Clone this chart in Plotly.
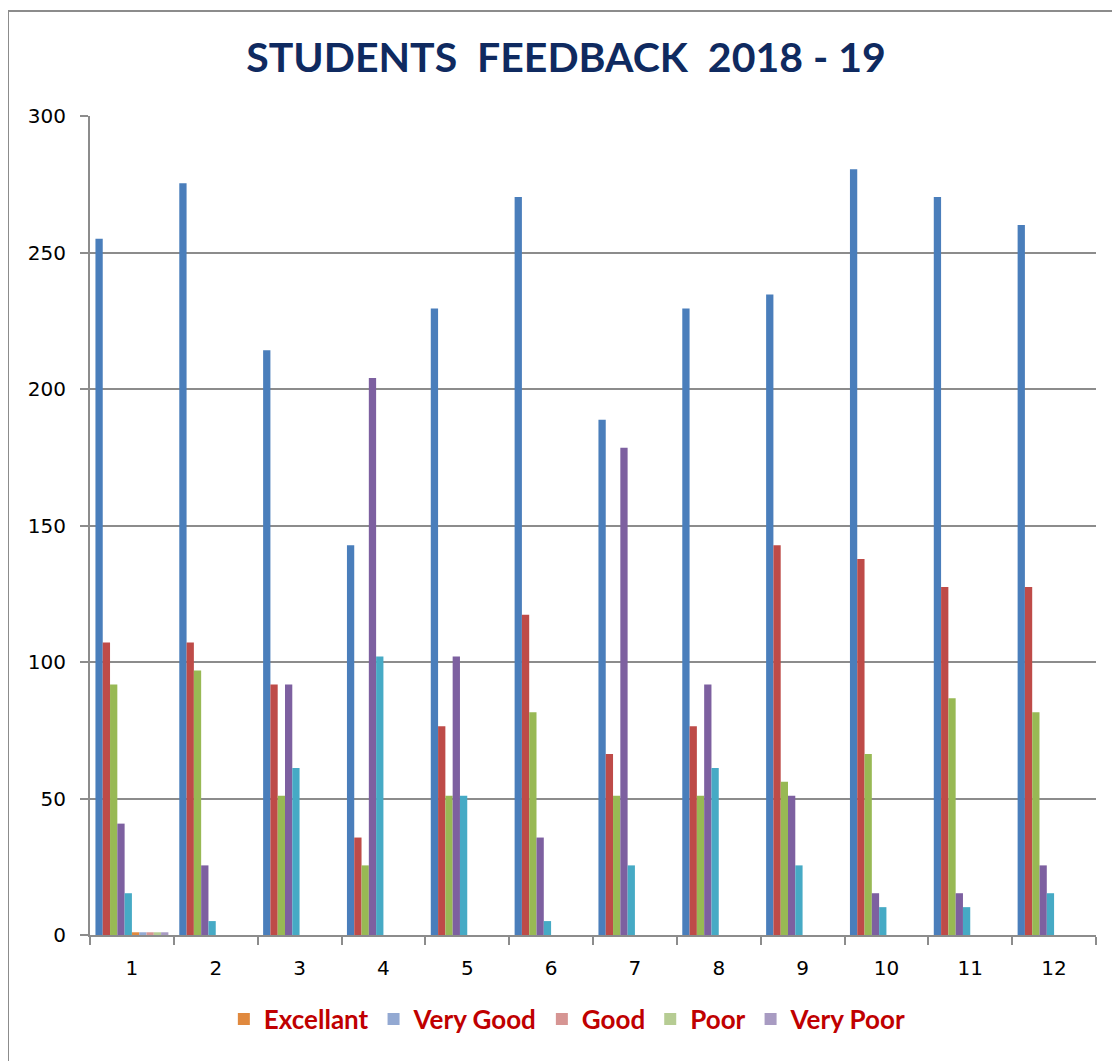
import plotly.graph_objects as go

categories = [str(i) for i in range(1, 13)]

# unlabelled main series (Excel default palette)
s_blue   = [255, 275.4, 214.2, 142.8, 229.5, 270.3, 188.7, 229.5, 234.6, 280.5, 270.3, 260.1]
s_red    = [107.1, 107.1, 91.8, 35.7, 76.5, 117.3, 66.3, 76.5, 142.8, 137.7, 127.5, 127.5]
s_green  = [91.8, 96.9, 51, 25.5, 51, 81.6, 51, 51, 56.1, 66.3, 86.7, 81.6]
s_purple = [40.8, 25.5, 91.8, 204, 102, 35.7, 178.5, 91.8, 51, 15.3, 15.3, 25.5]
s_teal   = [15.3, 5.1, 61.2, 102, 51, 5.1, 25.5, 61.2, 25.5, 10.2, 10.2, 15.3]

# legend series
legend_names = ["Excellant", "Very Good", "Good", "Poor", "Very Poor"]
excellant = [1] + [None] * 11
very_good = [1] + [None] * 11
good      = [1] + [None] * 11
poor      = [1] + [None] * 11
very_poor = [1] + [None] * 11

main_series = [s_blue, s_red, s_green, s_purple, s_teal]
main_colors = ["#4A7EBB", "#BE4B48", "#98B954", "#7D60A0", "#46AAC5"]
legend_series = [excellant, very_good, good, poor, very_poor]
legend_colors = ["#E0893E", "#93A9D2", "#D69593", "#B6CC93", "#A89BC2"]

W, H = 1120, 1061
L, T, R, B = 82, 108, 32, 134
pw, ph = W - L - R, H - T - B

fig = go.Figure()
for vals, col in zip(main_series, main_colors):
    fig.add_trace(go.Bar(x=categories, y=vals, marker=dict(color=col, line=dict(width=0)),
                         showlegend=False, hoverinfo="y"))
for name, vals, col in zip(legend_names, legend_series, legend_colors):
    fig.add_trace(go.Bar(x=categories, y=vals, name=name,
                         marker=dict(color=col, line=dict(width=0))))

fig.update_layout(
    width=W, height=H,
    margin=dict(l=L, r=R, t=T, b=B),
    paper_bgcolor="white", plot_bgcolor="white",
    barmode="group", bargap=0.13, bargroupgap=0,
    title=dict(text="<b>STUDENTS  FEEDBACK  2018 - 19</b>", x=(565 - 7 - L) / pw, xref="paper",
               xanchor="center", y=1 - 50 / H, yanchor="middle",
               font=dict(family="Lato", size=41, color="#0F2A60")),
    legend=dict(orientation="h", x=0.475, xanchor="center", y=-0.074, yanchor="top",
                font=dict(family="Lato", size=26, color="#C00000", weight="bold"),
                itemwidth=30, traceorder="normal"),
    xaxis=dict(type="category", tickson="boundaries", ticks="outside", ticklen=8,
               tickcolor="#8C8C8C", tickwidth=2, showline=True, linecolor="#8C8C8C", linewidth=2,
               showgrid=False, ticklabelstandoff=14,
               tickfont=dict(family="DejaVu Sans", size=20, color="black")),
    yaxis=dict(range=[0, 300], dtick=50, ticks="outside", ticklen=8, tickcolor="#8C8C8C", tickwidth=2,
               showline=True, linecolor="#8C8C8C", linewidth=2, showgrid=True, gridcolor="#8C8C8C",
               gridwidth=1.5, zeroline=False, ticklabelstandoff=10,
               tickfont=dict(family="DejaVu Sans", size=20, color="black")),
    shapes=[dict(type="rect", xref="paper", yref="paper",
                 x0=(0 - L) / pw, x1=1.2, y0=-0.3, y1=(H - B - 3) / ph,
                 line=dict(color="#8C8C8C", width=2), fillcolor="rgba(0,0,0,0)", layer="below")],
)

fig.write_html("out.html")
